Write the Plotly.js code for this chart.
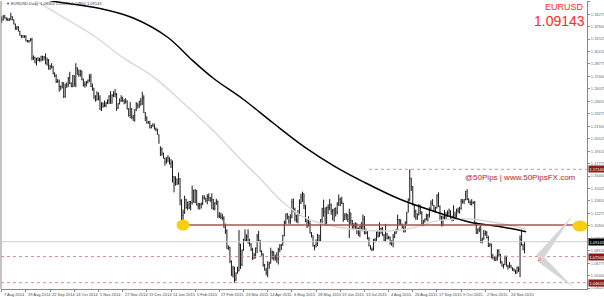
<!DOCTYPE html>
<html><head><meta charset="utf-8">
<script src="https://cdn.plot.ly/plotly-3.0.1.min.js"></script>
<style>html,body{margin:0;padding:0;background:#fff;}#c{width:604px;height:297px;}</style>
</head><body><div id="c"></div>
<script>
// Daily EURUSD bars, 7 Aug 2014 .. 8 Dec 2015
const open = [
1.3380,1.3363,1.3413,1.3384,1.3367,1.3359,1.3368,1.3400,1.3366,1.3318,
1.3262,1.3281,1.3240,1.3193,1.3170,1.3190,1.3182,1.3131,1.3130,1.3133,
1.3150,1.2945,1.2950,1.2893,1.2942,1.2918,1.2923,1.2963,1.2953,1.2958,
1.2886,1.2920,1.2830,1.2851,1.2848,1.2770,1.2748,1.2685,1.2686,1.2628,
1.2624,1.2669,1.2516,1.2645,1.2650,1.2724,1.2664,1.2629,1.2746,1.2654,
1.2830,1.2813,1.2760,1.2800,1.2710,1.2644,1.2650,1.2670,1.2697,1.2734,
1.2630,1.2610,1.2523,1.2481,1.2550,1.2490,1.2375,1.2448,1.2413,1.2420,
1.2441,1.2475,1.2524,1.2443,1.2532,1.2544,1.2545,1.2390,1.2440,1.2473,
1.2503,1.2469,1.2450,1.2468,1.2380,1.2311,1.2378,1.2288,1.2306,1.2374,
1.2440,1.2418,1.2465,1.2434,1.2505,1.2339,1.2291,1.2226,1.2225,1.2174,
1.2198,1.2188,1.2158,1.2155,1.2095,1.1950,1.1935,1.1893,1.1838,1.1794,
1.1842,1.1839,1.1773,1.1789,1.1630,1.1564,1.1607,1.1551,1.1610,1.1368,
1.1205,1.1237,1.1382,1.1289,1.1322,1.1290,1.1347,1.1480,1.1350,1.1479,
1.1316,1.1321,1.1322,1.1333,1.1400,1.1393,1.1370,1.1410,1.1400,1.1375,
1.1380,1.1280,1.1341,1.1357,1.1200,1.1195,1.1180,1.1175,1.1073,1.1030,
1.0840,1.0850,1.0697,1.0550,1.0625,1.0496,1.0568,1.0595,1.0880,1.0663,
1.0820,1.0940,1.0925,1.0970,1.0897,1.0888,1.0830,1.0730,1.0760,1.0843,
1.0970,1.0922,1.0804,1.0778,1.0661,1.0600,1.0570,1.0660,1.0680,1.0800,
1.0800,1.0738,1.0733,1.0725,1.0829,1.0873,1.0885,1.0983,1.1127,1.1221,
1.1195,1.1143,1.1180,1.1349,1.1270,1.1198,1.1155,1.1220,1.1345,1.1406,
1.1446,1.1316,1.1138,1.1090,1.1110,1.1010,1.0980,1.0870,1.0873,1.0905,
1.0988,1.0925,1.1155,1.1278,1.1245,1.1110,1.1290,1.1290,1.1320,1.1250,
1.1260,1.1280,1.1242,1.1330,1.1380,1.1350,1.1340,1.1160,1.1200,1.1215,
1.0990,1.1235,1.1145,1.1055,1.1087,1.1050,1.1060,1.1005,1.1080,1.1040,
1.1165,1.1000,1.1015,1.0950,1.0870,1.0830,1.0825,1.0935,1.0930,1.1020,
1.0980,1.1060,1.1060,1.0985,1.0930,1.1000,1.0950,1.0963,1.0900,1.0920,
1.0967,1.1014,1.1045,1.1160,1.1152,1.1107,1.1080,1.1025,1.1125,1.1240,
1.1385,1.1615,1.1520,1.1320,1.1245,1.1185,1.1210,1.1315,1.1230,1.1120,
1.1150,1.1165,1.1200,1.1210,1.1275,1.1340,1.1315,1.1255,1.1285,1.1430,
1.1300,1.1195,1.1090,1.1185,1.1200,1.1198,1.1235,1.1255,1.1175,1.1195,
1.1210,1.1185,1.1260,1.1245,1.1280,1.1359,1.1360,1.1380,1.1470,1.1380,
1.1350,1.1325,1.1345,1.1345,1.1110,1.1010,1.1050,1.1050,1.0925,1.0940,
1.1000,1.1020,1.0960,1.0865,1.0880,1.0740,1.0750,1.0710,1.0730,1.0815,
1.0770,1.0690,1.0645,1.0660,1.0735,1.0645,1.0636,1.0650,1.0625,1.0610,
1.0592,1.0565,1.0630,1.0610,1.0940,1.0880,1.0830];
const high = [
1.3404,1.3414,1.3417,1.3392,1.3388,1.3384,1.3444,1.3404,1.3370,1.3323,
1.3297,1.3296,1.3245,1.3199,1.3195,1.3194,1.3195,1.3143,1.3143,1.3160,
1.3167,1.2972,1.2956,1.2943,1.2952,1.2946,1.2967,1.2968,1.2964,1.2994,
1.2948,1.2932,1.2868,1.2887,1.2856,1.2786,1.2764,1.2711,1.2704,1.2640,
1.2680,1.2673,1.2655,1.2674,1.2734,1.2791,1.2674,1.2757,1.2752,1.2886,
1.2843,1.2814,1.2814,1.2804,1.2716,1.2685,1.2690,1.2706,1.2764,1.2770,
1.2661,1.2614,1.2532,1.2576,1.2564,1.2532,1.2454,1.2449,1.2474,1.2460,
1.2486,1.2532,1.2578,1.2544,1.2577,1.2600,1.2557,1.2444,1.2497,1.2532,
1.2515,1.2489,1.2500,1.2475,1.2390,1.2456,1.2389,1.2317,1.2377,1.2456,
1.2441,1.2470,1.2500,1.2570,1.2532,1.2345,1.2298,1.2248,1.2250,1.2205,
1.2223,1.2218,1.2176,1.2163,1.2100,1.1968,1.1955,1.1897,1.1843,1.1846,
1.1869,1.1847,1.1826,1.1812,1.1640,1.1637,1.1611,1.1679,1.1616,1.1384,
1.1270,1.1423,1.1387,1.1357,1.1365,1.1366,1.1534,1.1489,1.1497,1.1484,
1.1344,1.1342,1.1348,1.1428,1.1429,1.1400,1.1440,1.1449,1.1408,1.1449,
1.1385,1.1351,1.1388,1.1369,1.1240,1.1235,1.1220,1.1195,1.1114,1.1052,
1.0873,1.0860,1.0708,1.0648,1.0638,1.0576,1.0640,1.1043,1.0892,1.0828,
1.0945,1.1051,1.0997,1.1052,1.0946,1.0898,1.0847,1.0790,1.0850,1.1000,
1.1034,1.0935,1.0820,1.0785,1.0669,1.0626,1.0699,1.0692,1.0848,1.0818,
1.0808,1.0772,1.0798,1.0848,1.0888,1.0888,1.0990,1.1148,1.1224,1.1230,
1.1200,1.1218,1.1387,1.1392,1.1290,1.1212,1.1264,1.1382,1.1445,1.1467,
1.1447,1.1320,1.1165,1.1194,1.1144,1.1020,1.0984,1.0880,1.0940,1.0999,
1.0990,1.1164,1.1289,1.1380,1.1293,1.1302,1.1328,1.1385,1.1336,1.1276,
1.1284,1.1294,1.1350,1.1436,1.1400,1.1411,1.1345,1.1229,1.1233,1.1218,
1.1278,1.1235,1.1153,1.1119,1.1130,1.1120,1.1072,1.1088,1.1130,1.1215,
1.1199,1.1059,1.1035,1.0966,1.0876,1.0850,1.0945,1.0955,1.1028,1.1040,
1.1128,1.1070,1.1078,1.1000,1.1112,1.1010,1.0980,1.0970,1.0929,1.1000,
1.1030,1.1058,1.1214,1.1165,1.1162,1.1114,1.1082,1.1140,1.1241,1.1391,
1.1714,1.1620,1.1530,1.1330,1.1270,1.1230,1.1332,1.1317,1.1250,1.1155,
1.1170,1.1225,1.1221,1.1295,1.1370,1.1385,1.1319,1.1301,1.1437,1.1460,
1.1315,1.1200,1.1205,1.1265,1.1240,1.1260,1.1280,1.1260,1.1201,1.1317,
1.1245,1.1280,1.1290,1.1300,1.1387,1.1387,1.1385,1.1475,1.1495,1.1395,
1.1370,1.1385,1.1360,1.1365,1.1128,1.1060,1.1080,1.1095,1.0960,1.1045,
1.1038,1.1030,1.0980,1.0900,1.0895,1.0780,1.0755,1.0760,1.0830,1.0830,
1.0780,1.0700,1.0670,1.0760,1.0760,1.0660,1.0690,1.0660,1.0630,1.0620,
1.0605,1.0640,1.0640,1.0984,1.1050,1.0890,1.0921];
const low = [
1.3333,1.3358,1.3380,1.3358,1.3353,1.3355,1.3360,1.3360,1.3315,1.3256,
1.3254,1.3238,1.3192,1.3168,1.3167,1.3165,1.3128,1.3116,1.3110,1.3128,
1.2918,1.2922,1.2885,1.2860,1.2910,1.2903,1.2904,1.2913,1.2916,1.2872,
1.2858,1.2815,1.2810,1.2828,1.2764,1.2731,1.2667,1.2669,1.2571,1.2587,
1.2607,1.2501,1.2506,1.2611,1.2622,1.2654,1.2620,1.2620,1.2626,1.2621,
1.2757,1.2736,1.2738,1.2696,1.2629,1.2616,1.2630,1.2662,1.2680,1.2622,
1.2581,1.2488,1.2461,1.2474,1.2475,1.2371,1.2358,1.2393,1.2404,1.2398,
1.2434,1.2434,1.2440,1.2439,1.2511,1.2507,1.2359,1.2380,1.2431,1.2457,
1.2460,1.2432,1.2441,1.2375,1.2296,1.2278,1.2268,1.2247,1.2240,1.2356,
1.2385,1.2390,1.2416,1.2427,1.2336,1.2246,1.2219,1.2217,1.2165,1.2166,
1.2186,1.2155,1.2134,1.2097,1.1999,1.1860,1.1864,1.1833,1.1754,1.1777,
1.1794,1.1770,1.1728,1.1568,1.1459,1.1533,1.1541,1.1549,1.1316,1.1114,
1.1098,1.1222,1.1279,1.1262,1.1275,1.1260,1.1324,1.1348,1.1338,1.1316,
1.1271,1.1270,1.1280,1.1319,1.1380,1.1349,1.1328,1.1363,1.1352,1.1274,
1.1265,1.1260,1.1320,1.1177,1.1176,1.1165,1.1150,1.1069,1.1000,1.0837,
1.0822,1.0678,1.0537,1.0520,1.0462,1.0480,1.0562,1.0586,1.0613,1.0643,
1.0814,1.0922,1.0920,1.0895,1.0862,1.0812,1.0712,1.0725,1.0730,1.0788,
1.0918,1.0800,1.0758,1.0638,1.0596,1.0543,1.0521,1.0615,1.0672,1.0720,
1.0705,1.0706,1.0683,1.0662,1.0797,1.0822,1.0870,1.0975,1.1107,1.1160,
1.1112,1.1112,1.1173,1.1246,1.1141,1.1125,1.1117,1.1204,1.1330,1.1352,
1.1273,1.1132,1.1065,1.1083,1.1005,1.0960,1.0860,1.0819,1.0850,1.0865,
1.0917,1.0920,1.1108,1.1190,1.1089,1.1100,1.1220,1.1262,1.1212,1.1150,
1.1135,1.1193,1.1216,1.1309,1.1305,1.1329,1.1134,1.1154,1.1157,1.1132,
1.0955,1.1106,1.1050,1.1052,1.1053,1.1000,1.0978,1.0964,1.1037,1.1030,
1.0998,1.0998,1.0940,1.0863,1.0828,1.0809,1.0818,1.0906,1.0925,1.0959,
1.0968,1.1000,1.0980,1.0920,1.0917,1.0941,1.0940,1.0880,1.0870,1.0852,
1.0955,1.1000,1.1029,1.1099,1.1102,1.1059,1.1016,1.1018,1.1108,1.1238,
1.1360,1.1475,1.1315,1.1180,1.1155,1.1155,1.1205,1.1216,1.1085,1.1088,
1.1125,1.1150,1.1137,1.1182,1.1265,1.1314,1.1245,1.1237,1.1283,1.1300,
1.1155,1.1085,1.1085,1.1160,1.1160,1.1190,1.1195,1.1160,1.1139,1.1145,
1.1155,1.1180,1.1230,1.1225,1.1270,1.1335,1.1330,1.1370,1.1375,1.1340,
1.1320,1.1315,1.1330,1.1105,1.1000,1.1000,1.1020,1.0899,1.0896,1.0937,
1.0980,1.0950,1.0855,1.0860,1.0731,1.0720,1.0703,1.0700,1.0705,1.0748,
1.0673,1.0642,1.0618,1.0656,1.0640,1.0605,1.0625,1.0620,1.0592,1.0585,
1.0557,1.0565,1.0580,1.0524,1.0870,1.0820,1.0785];
const close = [
1.3363,1.3413,1.3384,1.3367,1.3359,1.3368,1.3400,1.3366,1.3318,1.3262,
1.3281,1.3240,1.3193,1.3170,1.3190,1.3182,1.3131,1.3130,1.3133,1.3150,
1.2945,1.2950,1.2893,1.2942,1.2918,1.2923,1.2963,1.2953,1.2958,1.2886,
1.2920,1.2830,1.2851,1.2848,1.2770,1.2748,1.2685,1.2686,1.2628,1.2624,
1.2669,1.2516,1.2645,1.2650,1.2724,1.2664,1.2629,1.2746,1.2654,1.2830,
1.2813,1.2760,1.2800,1.2710,1.2644,1.2650,1.2670,1.2697,1.2734,1.2630,
1.2610,1.2523,1.2481,1.2550,1.2490,1.2375,1.2448,1.2413,1.2420,1.2441,
1.2475,1.2524,1.2443,1.2532,1.2544,1.2545,1.2390,1.2440,1.2473,1.2503,
1.2469,1.2450,1.2468,1.2380,1.2311,1.2378,1.2288,1.2306,1.2374,1.2440,
1.2418,1.2465,1.2434,1.2505,1.2339,1.2291,1.2226,1.2225,1.2174,1.2198,
1.2188,1.2158,1.2155,1.2100,1.2002,1.1935,1.1893,1.1838,1.1794,1.1842,
1.1839,1.1773,1.1789,1.1630,1.1564,1.1607,1.1551,1.1610,1.1368,1.1205,
1.1237,1.1382,1.1289,1.1322,1.1290,1.1347,1.1480,1.1350,1.1479,1.1316,
1.1321,1.1322,1.1333,1.1400,1.1393,1.1370,1.1410,1.1400,1.1375,1.1380,
1.1280,1.1341,1.1357,1.1200,1.1195,1.1180,1.1175,1.1073,1.1030,1.0840,
1.0850,1.0697,1.0550,1.0625,1.0496,1.0568,1.0595,1.0880,1.0663,1.0820,
1.0940,1.0925,1.0970,1.0897,1.0888,1.0830,1.0730,1.0760,1.0843,1.0970,
1.0922,1.0804,1.0778,1.0661,1.0600,1.0570,1.0660,1.0680,1.0800,1.0800,
1.0738,1.0733,1.0725,1.0829,1.0873,1.0885,1.0983,1.1127,1.1221,1.1195,
1.1143,1.1180,1.1349,1.1270,1.1198,1.1155,1.1220,1.1345,1.1406,1.1446,
1.1316,1.1138,1.1090,1.1110,1.1010,1.0980,1.0870,1.0873,1.0905,1.0988,
1.0925,1.1155,1.1278,1.1245,1.1110,1.1290,1.1290,1.1320,1.1250,1.1260,
1.1280,1.1242,1.1330,1.1380,1.1350,1.1340,1.1160,1.1200,1.1215,1.1160,
1.1235,1.1145,1.1055,1.1087,1.1110,1.1060,1.1005,1.1080,1.1040,1.1165,
1.1000,1.1015,1.0950,1.0870,1.0830,1.0825,1.0935,1.0930,1.1020,1.0980,
1.1060,1.1060,1.0985,1.0930,1.1000,1.0950,1.0963,1.0900,1.0920,1.0967,
1.1014,1.1045,1.1160,1.1152,1.1107,1.1080,1.1025,1.1125,1.1240,1.1385,
1.1615,1.1520,1.1320,1.1245,1.1185,1.1210,1.1315,1.1230,1.1120,1.1150,
1.1165,1.1200,1.1210,1.1275,1.1340,1.1315,1.1255,1.1285,1.1430,1.1300,
1.1195,1.1090,1.1185,1.1200,1.1198,1.1235,1.1255,1.1175,1.1195,1.1210,
1.1185,1.1260,1.1245,1.1280,1.1359,1.1360,1.1380,1.1470,1.1380,1.1350,
1.1325,1.1345,1.1345,1.1110,1.1010,1.1050,1.1050,1.0925,1.0940,1.1000,
1.1020,1.0960,1.0865,1.0880,1.0740,1.0750,1.0710,1.0730,1.0815,1.0770,
1.0690,1.0645,1.0660,1.0735,1.0645,1.0636,1.0650,1.0625,1.0610,1.0592,
1.0565,1.0630,1.0610,1.0940,1.0880,1.0830,1.09143];

// Moving averages (bar index, value)
const maSlowIdx = [30,37,65,87,110,125,140,160,180,200,220,240,264,290,310,330,347];
const maSlowVal = [1.3585,1.3562,1.3490,1.3385,1.3170,1.2935,1.2720,1.2485,1.2220,1.1965,1.1750,1.1570,1.1380,1.1228,1.1130,1.1080,1.1025];
const maFastIdx = [20,40,60,80,100,120,140,160,170,186,202,231,264,290,310,330,347];
const maFastVal = [1.3600,1.3400,1.3200,1.2950,1.2740,1.2450,1.2140,1.1790,1.1630,1.1350,1.1170,1.1055,1.1043,1.1150,1.1165,1.1115,1.1055];

// x-axis date labels (every 16 bars)
const xLabelIdx = [0,16,32,48,64,80,96,112,128,144,160,176,192,208,224,240,256,272,288,304,320,336];
const xLabels = ["7 Aug 2014","29 Aug 2014","22 Sep 2014","14 Oct 2014","5 Nov 2014","27 Nov 2014","19 Dec 2014","14 Jan 2015","5 Feb 2015","27 Feb 2015","23 Mar 2015","14 Apr 2015","6 May 2015","28 May 2015","19 Jun 2015","13 Jul 2015","4 Aug 2015","26 Aug 2015","17 Sep 2015","9 Oct 2015","2 Nov 2015","24 Nov 2015"];
// price-axis labels
const yTickVals = [1.04025,1.05400,1.06775,1.08150,1.09525,1.10900,1.12275,1.13650,1.15025,1.16400,1.17775,1.19150,1.20525,1.21900,1.23275,1.24650,1.26025,1.27400,1.28775,1.30150,1.31525,1.32900,1.34275,1.35650];
const yTickText = ["1.04025","1.05400","1.06775","1.08150","1.09525","1.10900","1.12275","1.13650","1.15025","1.16400","1.17775","1.19150","1.20525","1.21900","1.23275","1.24650","1.26025","1.27400","1.28775","1.30150","1.31525","1.32900","1.34275","1.35650"];

// drawn levels
const levelPrices = [1.1714, 1.0750, 1.0462];
const levelLabels = ["1.17140","1.07500","1.04620"];
const levelStart = [243, 0, 0];
const supportPrice = 1.1098;
const supportStart = 120;
const symbol = "EURUSD";
const lastPrice = 1.09143;

// ---- geometry helpers for decorations ----
const W = 604, H = 297, ML = 1, MR = 17, MT = 1, MB = 8;
const PW = W - ML - MR, PH = H - MT - MB;
const px = x => (x - ML) / PW;
const py = y => (MT + PH - y) / PH;

const idx = open.map((_, i) => i);
const n = open.length;

const traces = [
  { type: 'scatter', mode: 'lines', x: maFastIdx, y: maFastVal, line: {color: '#d8d8d8', width: 1.4, shape: 'spline'}, hoverinfo: 'skip' },
  { type: 'scatter', mode: 'lines', x: maSlowIdx, y: maSlowVal, line: {color: '#000000', width: 1.5, shape: 'spline'}, hoverinfo: 'skip' },
  { type: 'ohlc', x: idx, open: open, high: high, low: low, close: close,
    increasing: {line: {color: '#1a1a1a', width: 1}}, decreasing: {line: {color: '#1a1a1a', width: 1}},
    tickwidth: 0.3, hoverinfo: 'skip' }
];

const shapes = [];
// left frame line
shapes.push({type: 'line', xref: 'paper', yref: 'paper', x0: 0, x1: 0, y0: 0, y1: 1, line: {color: '#888', width: 1}});
// current price line
shapes.push({type: 'line', xref: 'paper', yref: 'y', x0: 0, x1: 1, y0: lastPrice, y1: lastPrice, line: {color: '#cfcfcf', width: 1}});
// dotted levels
levelPrices.forEach((p, k) => {
  shapes.push({type: 'line', xref: levelStart[k] ? 'x' : 'paper', yref: 'y', x0: levelStart[k] ? levelStart[k] : 0, x1: levelStart[k] ? 387 : 1, y0: p, y1: p, line: {color: '#dc8a8a', width: 1, dash: 'dot'}});
});
// support line
shapes.push({type: 'line', xref: 'x', yref: 'y', x0: supportStart, x1: 387.3, y0: supportPrice, y1: supportPrice, line: {color: 'rgba(170,70,70,0.7)', width: 2}});
// yellow markers
shapes.push({type: 'circle', xref: 'paper', yref: 'paper', x0: px(176.5), x1: px(189.5), y0: py(230.5), y1: py(219.5), fillcolor: '#f6cf12', line: {width: 0}});
shapes.push({type: 'circle', xref: 'paper', yref: 'paper', x0: px(572.5), x1: px(587.5), y0: py(231.5), y1: py(220.5), fillcolor: '#f6cf12', line: {width: 0}});
// grey chevron
const tri = (a, b, c) => `M ${px(a[0])} ${py(a[1])} L ${px(b[0])} ${py(b[1])} L ${px(c[0])} ${py(c[1])} Z`;
shapes.push({type: 'path', xref: 'paper', yref: 'paper', path: tri([536, 255.5], [544, 258], [573, 215]), fillcolor: '#d6d6d6', line: {width: 0}});
shapes.push({type: 'path', xref: 'paper', yref: 'paper', path: tri([536, 260.5], [544, 257], [574, 288]), fillcolor: '#d6d6d6', line: {width: 0}});

const annotations = [];
// x labels
xLabelIdx.forEach((v, k) => annotations.push({x: v, y: 0, xref: 'x', yref: 'paper', xanchor: 'left', yanchor: 'top', yshift: -1, text: xLabels[k], showarrow: false, font: {family: 'Liberation Sans, Arial', size: 4, color: '#444'}}));
// level price boxes
levelPrices.forEach((p, k) => annotations.push({x: 1, xref: 'paper', y: p, yref: 'y', xanchor: 'left', yanchor: 'middle', xshift: 1, text: levelLabels[k], showarrow: false, bgcolor: '#8e1a1a', borderpad: 0.5, font: {family: 'Liberation Sans, Arial', size: 4, color: '#fff'}}));
annotations.push({x: 1, xref: 'paper', y: lastPrice, yref: 'y', xanchor: 'left', yanchor: 'middle', xshift: 1, text: lastPrice.toFixed(5), showarrow: false, bgcolor: '#000', borderpad: 0.5, font: {family: 'Liberation Sans, Arial', size: 4, color: '#fff'}});
// header
const last = n - 1;
annotations.push({x: px(4), y: py(4), xref: 'paper', yref: 'paper', xanchor: 'left', yanchor: 'middle', showarrow: false,
  text: '▼ ' + symbol + ',Daily  ' + open[last].toFixed(5) + ' ' + high[last].toFixed(5) + ' ' + low[last].toFixed(5) + ' ' + close[last].toFixed(5),
  font: {family: 'Liberation Sans, Arial', size: 4, color: '#333'}});
annotations.push({x: px(586), y: py(7), xref: 'paper', yref: 'paper', xanchor: 'right', yanchor: 'middle', showarrow: false, text: symbol, font: {family: 'Liberation Sans, Arial', size: 9, color: '#ff2a2a'}});
annotations.push({x: px(587), y: py(20.5), xref: 'paper', yref: 'paper', xanchor: 'right', yanchor: 'middle', showarrow: false, text: lastPrice.toFixed(5), font: {family: 'Liberation Sans, Arial', size: 14, color: '#ff2a2a'}});
annotations.push({x: px(520), y: py(177.5), xref: 'paper', yref: 'paper', xanchor: 'center', yanchor: 'middle', showarrow: false, text: '@50Pips | www.50PipsFX.com', font: {family: 'Liberation Sans, Arial', size: 8, color: '#b52525'}});
annotations.push({x: px(540), y: py(259), xref: 'paper', yref: 'paper', xanchor: 'center', yanchor: 'middle', showarrow: false, text: '8', font: {family: 'Liberation Sans, Arial', size: 6, color: '#f07070'}});

const layout = {
  width: W, height: H, margin: {l: ML, r: MR, t: MT, b: MB},
  paper_bgcolor: '#fff', plot_bgcolor: '#fff', showlegend: false,
  xaxis: {range: [-0.5, 387.3], showgrid: false, zeroline: false, showline: true, linecolor: '#888', linewidth: 1,
    tickvals: xLabelIdx, ticks: 'outside', ticklen: 2, tickcolor: '#888', showticklabels: false, rangeslider: {visible: false}, fixedrange: true},
  yaxis: {range: [1.0392, 1.3573], side: 'right', showgrid: false, zeroline: false, showline: true, linecolor: '#888', linewidth: 1,
    tickvals: yTickVals, ticktext: yTickText, ticks: 'outside', ticklen: 2, tickcolor: '#888',
    tickfont: {family: 'Liberation Sans, Arial', size: 4, color: '#666'}, fixedrange: true},
  shapes: shapes, annotations: annotations
};
Plotly.newPlot('c', traces, layout, {staticPlot: true, displayModeBar: false});
</script></body></html>
